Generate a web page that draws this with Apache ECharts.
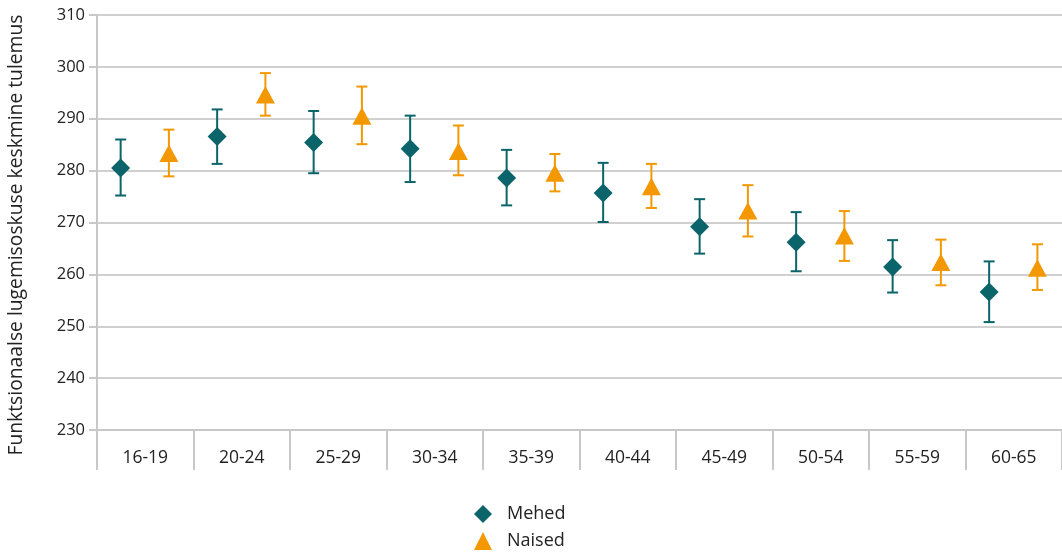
<!DOCTYPE html>
<html>
<head>
<meta charset="utf-8">
<script src="https://cdn.jsdelivr.net/npm/echarts@6/dist/echarts.min.js"></script>
<style>
html,body{margin:0;padding:0;background:#fff;}
#chart{width:1062px;height:553px;}
</style>
</head>
<body>
<div id="chart"></div>
<script>
const categories = ['16-19','20-24','25-29','30-34','35-39','40-44','45-49','50-54','55-59','60-65'];
const mehedMean = [280.5, 286.6, 285.4, 284.2, 278.6, 275.7, 269.2, 266.2, 261.4, 256.6];
const mehedLow  = [275.2, 281.3, 279.5, 277.8, 273.3, 270.1, 264.0, 260.6, 256.5, 250.8];
const mehedHigh = [286.0, 291.8, 291.5, 290.6, 284.0, 281.5, 274.5, 272.0, 266.6, 262.5];
const naisedMean = [283.3, 294.6, 290.5, 283.7, 279.5, 276.9, 272.2, 267.4, 262.3, 261.2];
const naisedLow  = [278.9, 290.6, 285.1, 279.1, 276.0, 272.8, 267.3, 262.6, 257.9, 257.0];
const naisedHigh = [287.9, 298.8, 296.2, 288.7, 283.2, 281.3, 277.2, 272.2, 266.7, 265.8];
const yTicks = [230, 240, 250, 260, 270, 280, 290, 300, 310];
const yTitle = 'Funktsionaalse lugemisoskuse keskmine tulemus';

const TEAL = '#0a646a';
const ORANGE = '#f39800';

function makeData(mean, lo, hi){
  return categories.map((c,i)=>[i, mean[i], lo[i], hi[i]]);
}

function makeRender(offsetFrac, shape, color){
  return function(params, api){
    const xi = api.value(0);
    const mid = api.coord([xi, api.value(1)]);
    const lo = api.coord([xi, api.value(2)]);
    const hi = api.coord([xi, api.value(3)]);
    const bw = api.size([1,0])[0];
    const x = mid[0] + offsetFrac*bw;
    const y = mid[1];
    const cap = 5.5;
    const lineStyle = {stroke: color, lineWidth: 2};
    let pts;
    if (shape === 'diamond') {
      pts = [[x, y-9.5],[x+9.5, y],[x, y+9.5],[x-9.5, y]];
    } else {
      pts = [[x, y-9],[x+9.5, y+8.5],[x-9.5, y+8.5]];
    }
    return {
      type: 'group',
      children: [
        {type:'line', shape:{x1:x, y1:hi[1], x2:x, y2:lo[1]}, style: lineStyle},
        {type:'line', shape:{x1:x-cap, y1:hi[1], x2:x+cap, y2:hi[1]}, style: lineStyle},
        {type:'line', shape:{x1:x-cap, y1:lo[1], x2:x+cap, y2:lo[1]}, style: lineStyle},
        {type:'polygon', shape:{points: pts}, style:{fill: color}}
      ]
    };
  };
}

const chart = echarts.init(document.getElementById('chart'));
chart.setOption({
  animation: false,
  backgroundColor: '#fff',
  textStyle: {fontFamily: 'Open Sans'},
  grid: {left: 97, right: 0, top: 15, bottom: 123, containLabel: false, outerBoundsMode: 'none'},
  graphic: [{
    type: 'text',
    x: 17,
    y: 235,
    rotation: Math.PI / 2,
    style: {
      text: yTitle,
      font: '19.3px "Open Sans"',
      fill: '#222',
      align: 'center',
      verticalAlign: 'middle'
    }
  }],
  legend: {
    orient: 'vertical',
    left: 474,
    top: 505,
    padding: 0,
    itemWidth: 18,
    itemHeight: 18,
    itemGap: 9,
    textStyle: {fontSize: 18, color: '#222', fontFamily: 'Open Sans', padding: [0,0,0,10]},
    data: [
      {name: 'Mehed', icon: 'diamond', itemStyle: {color: TEAL}},
      {name: 'Naised', icon: 'triangle', itemStyle: {color: ORANGE}}
    ]
  },
  xAxis: {
    type: 'category',
    data: categories,
    boundaryGap: true,
    axisLine: {show: true, lineStyle: {color: '#c8c8c8', width: 2}},
    axisTick: {show: true, interval: 0, length: 40, lineStyle: {color: '#c8c8c8', width: 2}},
    axisLabel: {fontSize: 17.5, color: '#222', margin: 19, interval: 0},
    splitLine: {show: false}
  },
  yAxis: {
    type: 'value',
    min: yTicks[0],
    max: yTicks[yTicks.length-1],
    interval: 10,
    axisLine: {show: true, lineStyle: {color: '#c8c8c8', width: 2}},
    axisTick: {show: true, length: 8, lineStyle: {color: '#c8c8c8', width: 2}},
    axisLabel: {fontSize: 16.5, color: '#222', margin: 12},
    splitLine: {show: true, lineStyle: {color: '#d0d0d0', width: 2}}
  },
  series: [
    {
      name: 'Mehed',
      type: 'custom',
      itemStyle: {color: TEAL},
      renderItem: makeRender(-0.255, 'diamond', TEAL),
      encode: {x: 0, y: [1,2,3]},
      data: makeData(mehedMean, mehedLow, mehedHigh),
      z: 3
    },
    {
      name: 'Naised',
      type: 'custom',
      itemStyle: {color: ORANGE},
      renderItem: makeRender(0.245, 'triangle', ORANGE),
      encode: {x: 0, y: [1,2,3]},
      data: makeData(naisedMean, naisedLow, naisedHigh),
      z: 3
    }
  ]
});
</script>
</body>
</html>
